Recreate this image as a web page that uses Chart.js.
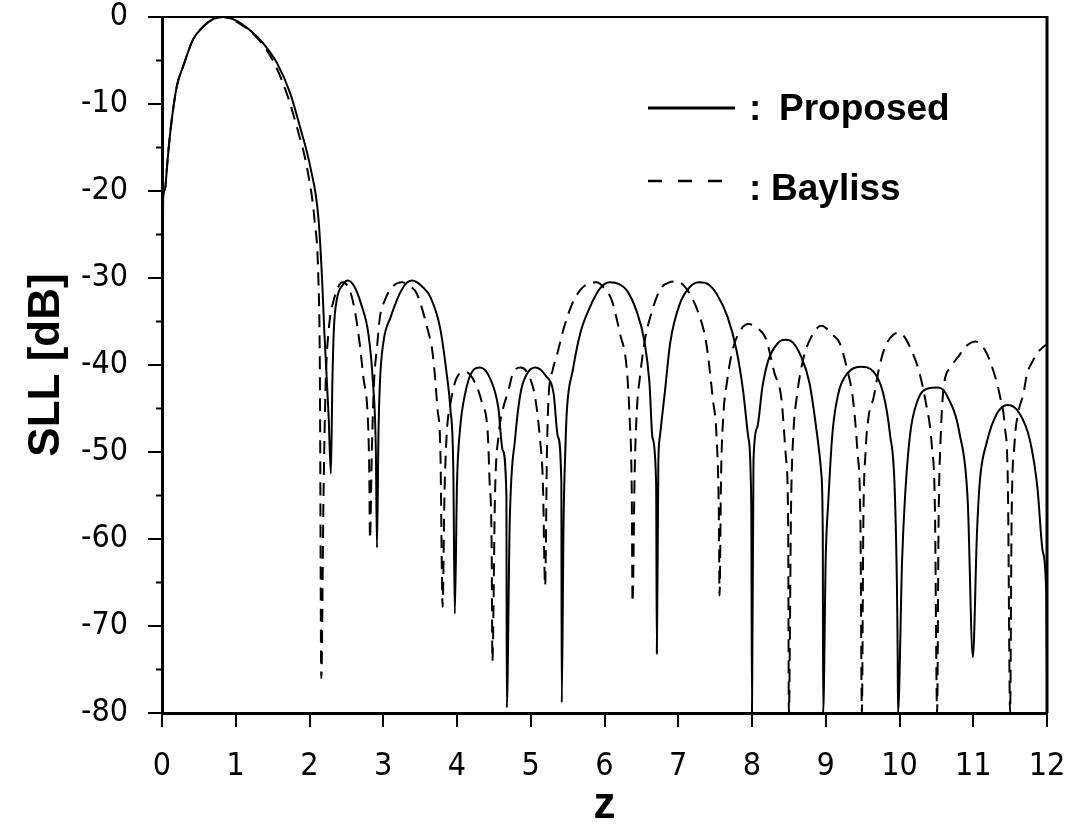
<!DOCTYPE html>
<html>
<head>
<meta charset="utf-8">
<script src="https://cdn.jsdelivr.net/npm/chart.js@4.4.1/dist/chart.umd.min.js"></script>
<style>
  html, body { margin: 0; padding: 0; background: #fff; }
  canvas { display: block; }
</style>
</head>
<body>
<canvas id="chart" width="1086" height="830"></canvas>
<script>
// values (z, SLL in dB)
const proposedZ = [
  0, 0.015, 0.04, 0.07, 0.11, 0.2, 0.29, 0.42, 0.56, 0.7, 0.83, 0.98, 1.19, 1.37, 1.56, 1.74, 1.87, 2.01, 2.12, 2.17,
  2.2, 2.26, 2.29, 2.31, 2.33, 2.37, 2.45, 2.52, 2.61, 2.7, 2.8, 2.86, 2.9, 2.915,
  2.935, 2.955, 3.0, 3.1, 3.26, 3.39, 3.53, 3.64, 3.77, 3.86, 3.91, 3.95, 3.97,
  4.0, 4.04, 4.11, 4.22, 4.31, 4.44, 4.56, 4.62, 4.67, 4.675,
  4.715, 4.79, 4.86, 4.95, 5.06, 5.2, 5.31, 5.37, 5.415, 5.42,
  5.445, 5.47, 5.49, 5.57, 5.67, 5.8, 5.94, 6.07, 6.2, 6.3, 6.43, 6.54, 6.61, 6.65, 6.7, 6.71,
  6.73, 6.75, 6.82, 6.89, 7.02, 7.16, 7.29, 7.42, 7.52, 7.67, 7.79, 7.88, 7.95, 7.99, 8.0,
  8.02, 8.07, 8.14, 8.22, 8.36, 8.45, 8.52, 8.67, 8.78, 8.87, 8.94, 8.96, 8.965,
  9.0, 9.035, 9.09, 9.17, 9.29, 9.47, 9.65, 9.78, 9.87, 9.94, 9.975, 9.98,
  10.035, 10.075, 10.145, 10.245, 10.385, 10.525, 10.655, 10.815, 10.925, 10.995,
  11.05, 11.09, 11.18, 11.32, 11.47, 11.63, 11.77, 11.87, 11.94, 11.99, 12
];
const proposedSLL = [
  -54, -21, -19.8, -17, -13.4, -8, -5.6, -2.6, -1.1, -0.2, 0, -0.3, -1.5, -3, -5.3, -8.8, -12.6, -17.2, -23, -30,
  -36, -46, -52.5, -42, -36, -32.5, -30.8, -30.3, -31, -33, -36.5, -42, -50, -61,
  -48, -42, -37.5, -34.5, -31.2, -30.3, -31, -32.2, -35.7, -41, -45, -52, -68.6,
  -53.6, -47.5, -43.3, -40.6, -40.3, -41.4, -44.9, -49.8, -55, -79.4,
  -58, -48.3, -43.3, -41, -40.3, -41.2, -43.3, -48.3, -53.6, -78.8,
  -58, -49.5, -45.2, -40.6, -36.4, -33.4, -31.2, -30.5, -30.7, -31.4, -33.7, -37.2, -42.1, -48.3, -53.6, -73.2,
  -51.3, -48.3, -43, -37.5, -33, -31, -30.5, -30.8, -31.8, -34.5, -38.3, -43, -48.3, -56, -80,
  -51, -47.2, -42.6, -39.5, -37.4, -37.1, -37.2, -39.1, -42.1, -47.2, -52.5, -59.8, -80,
  -62, -55.6, -47.9, -43.3, -41, -40.2, -40.8, -43.3, -47.9, -55.6, -72.8, -80,
  -62.5, -55.2, -47.9, -44.1, -42.7, -42.6, -43.7, -47.9, -55.6, -73.6,
  -59.4, -53.3, -49, -45.6, -44.6, -45.6, -48.7, -54.1, -61.3, -66.3, -76
];
const baylissZ = [
  0, 0.015, 0.04, 0.07, 0.11, 0.2, 0.29, 0.42, 0.56, 0.7, 0.83, 0.98,
  1.19, 1.37, 1.54, 1.7, 1.84, 1.97, 2.07, 2.12, 2.14, 2.16,
  2.19, 2.22, 2.26, 2.33, 2.45, 2.55, 2.62, 2.68, 2.73, 2.79, 2.81, 2.82,
  2.845, 2.875, 2.915, 2.955, 3.025, 3.105, 3.255, 3.375, 3.455, 3.595, 3.675, 3.735, 3.775, 3.805,
  3.83, 3.86, 3.91, 4.0, 4.11, 4.21, 4.34, 4.42, 4.44, 4.47, 4.48,
  4.515, 4.565, 4.625, 4.695, 4.765, 4.865, 4.985, 5.065, 5.125, 5.165, 5.195,
  5.22, 5.24, 5.3, 5.36, 5.44, 5.56, 5.67, 5.79, 5.89, 6.0, 6.1, 6.21, 6.3, 6.34, 6.37, 6.38,
  6.41, 6.44, 6.48, 6.55, 6.62, 6.75, 6.88, 6.98, 7.08, 7.18, 7.26, 7.38, 7.47, 7.52, 7.55, 7.56,
  7.58, 7.61, 7.66, 7.73, 7.83, 7.95, 8.08, 8.19, 8.3, 8.4, 8.46, 8.49, 8.5,
  8.53, 8.56, 8.61, 8.69, 8.79, 8.94, 9.09, 9.19, 9.29, 9.37, 9.43, 9.47, 9.49,
  9.51, 9.54, 9.58, 9.65, 9.72, 9.8, 9.92, 10.0, 10.07, 10.16, 10.25, 10.35, 10.44, 10.48, 10.51,
  10.53, 10.56, 10.6, 10.69, 10.8, 10.91, 11.03, 11.16, 11.27, 11.36, 11.43, 11.47, 11.5,
  11.52, 11.56, 11.61, 11.68, 11.73, 11.81, 11.86, 11.94, 12
];
const baylissSLL = [
  -54, -21, -19.8, -17, -13.4, -8, -5.6, -2.6, -1.1, -0.2, 0, -0.4,
  -1.6, -3.2, -5.6, -9, -13, -17.5, -23.5, -30, -40, -76,
  -55, -42, -36, -32.5, -30.5, -31.5, -34, -37.5, -41.4, -46, -52, -60,
  -50, -42, -38, -34.5, -32.5, -31.2, -30.5, -31, -31.8, -35.7, -39, -45, -50, -67.8,
  -55, -48, -44.5, -41.4, -40.8, -41.5, -44.4, -48.3, -53, -61, -74,
  -55, -48, -45, -43, -40.8, -40.3, -41.4, -44, -48.5, -53.6, -65.4,
  -50, -44, -40.5, -38.7, -36, -33, -31.4, -30.6, -30.5, -31.2, -32.6, -36.4, -40.3, -46, -55, -67.3,
  -52, -45, -41.4, -37, -34.5, -31.4, -30.5, -30.4, -30.9, -32.2, -33.7, -37.5, -44, -48.3, -57, -66.5,
  -53, -46, -42, -38.5, -36.2, -35.3, -35.8, -37, -40.8, -44, -50.6, -58, -80,
  -56, -48, -43.5, -39.5, -37, -35.5, -36.5, -37.5, -40.5, -44, -50, -58, -80,
  -58, -50, -46, -43.7, -40.5, -38, -36.5, -36.3, -36.8, -38.3, -40.3, -44, -49.5, -56.4, -80,
  -58, -48, -42.5, -40.3, -39, -37.8, -37.3, -38.3, -40.6, -43.5, -47.2, -54, -80,
  -58, -49, -45.5, -43.3, -41, -39.5, -38.7, -38, -37.6
];
const yMinorTicks = [-5, -15, -25, -35, -45, -55, -65, -75];
const legendLabels = ["Proposed", "Bayliss"];

const tickFont = { family: "'Liberation Sans Narrow', 'Arial Narrow', 'DejaVu Sans Condensed', sans-serif", size: 32 };
const titleFont = { family: "'Liberation Sans', Arial, sans-serif", size: 44, weight: "bold", lineHeight: 1 };

const toPoints = (xs, ys) => xs.map((x, i) => ({ x, y: ys[i] }));

// frame, minor ticks and the in-plot legend
const extras = {
    id: "extras",
    afterDraw(chart) {
        const { ctx, chartArea: a, scales } = chart;
        ctx.save();
        ctx.strokeStyle = "#000";
        ctx.lineCap = "butt";
        // top and right frame
        ctx.lineWidth = 2;
        ctx.beginPath();
        ctx.moveTo(a.left, a.top);
        ctx.lineTo(a.right, a.top);
        ctx.stroke();
        ctx.lineWidth = 3;
        ctx.beginPath();
        ctx.moveTo(a.right, a.top - 1);
        ctx.lineTo(a.right, a.bottom);
        ctx.stroke();
        // minor y ticks
        ctx.lineWidth = 2;
        yMinorTicks.forEach(v => {
            const y = scales.y.getPixelForValue(v);
            ctx.beginPath();
            ctx.moveTo(a.left - 6, y);
            ctx.lineTo(a.left, y);
            ctx.stroke();
        });
        // legend
        ctx.lineWidth = 3;
        ctx.beginPath();
        ctx.moveTo(648, 108);
        ctx.lineTo(735, 108);
        ctx.stroke();
        ctx.lineWidth = 2.5;
        ctx.setLineDash([14, 16]);
        ctx.beginPath();
        ctx.moveTo(648, 181);
        ctx.lineTo(722, 181);
        ctx.stroke();
        ctx.setLineDash([]);
        ctx.fillStyle = "#000";
        ctx.font = "bold 37px 'Liberation Sans', Arial, sans-serif";
        ctx.textBaseline = "alphabetic";
        ctx.textAlign = "left";
        ctx.fillText(":", 749, 120);
        ctx.fillText(legendLabels[0], 779, 120);
        ctx.fillText(":", 749, 200);
        ctx.fillText(legendLabels[1], 771, 200);
        ctx.restore();
    }
};

new Chart(document.getElementById("chart"), {
    type: "line",
    data: {
        datasets: [
            {
                label: legendLabels[0],
                data: toPoints(proposedZ, proposedSLL),
                borderColor: "#000",
                borderWidth: 2,
                borderJoinStyle: "round",
                cubicInterpolationMode: "monotone",
                pointRadius: 0,
            },
            {
                label: legendLabels[1],
                data: toPoints(baylissZ, baylissSLL),
                borderColor: "#000",
                borderWidth: 2,
                borderDash: [13, 8],
                borderJoinStyle: "round",
                cubicInterpolationMode: "monotone",
                pointRadius: 0,
            },
        ]
    },
    options: {
        responsive: false,
        animation: false,
        layout: { padding: { top: 17, right: 39, left: 0, bottom: 0 } },
        plugins: { legend: { display: false }, tooltip: { enabled: false } },
        scales: {
            x: {
                type: "linear",
                min: 0,
                max: 12,
                afterFit: (s) => { s.height = 117; s.paddingLeft = 0; s.paddingRight = 0; },
                ticks: { stepSize: 1, color: "#000", font: tickFont, padding: 20, maxRotation: 0 },
                grid: { drawOnChartArea: false, color: "#000", lineWidth: 2, tickLength: 14 },
                border: { display: true, color: "#000", width: 3 },
                title: { display: true, text: "z", color: "#000", font: titleFont, padding: { top: 0, bottom: 2 } },
            },
            y: {
                type: "linear",
                min: -80,
                max: 0,
                afterFit: (s) => { s.width = 162; s.paddingTop = 0; s.paddingBottom = 0; },
                ticks: { stepSize: 10, color: "#000", font: tickFont, padding: 20 },
                grid: { drawOnChartArea: false, color: "#000", lineWidth: 2, tickLength: 14 },
                border: { display: true, color: "#000", width: 3 },
                title: { display: true, text: "SLL [dB]", color: "#000", font: titleFont, padding: { top: 25, bottom: 0 } },
            },
        }
    },
    plugins: [extras]
});
</script>
</body>
</html>
